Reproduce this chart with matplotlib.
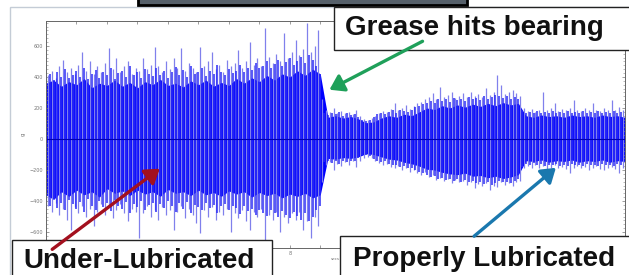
import numpy as np
import matplotlib
matplotlib.use("Agg")
import matplotlib.pyplot as plt
from matplotlib.patches import Rectangle, FancyArrowPatch

# vibration trace (x in s, y in g-ish units)
core_t = np.arange(0, 19.01, 0.25)
core_hi = [360, 380, 340, 370, 350, 390, 330, 360, 345, 380, 340, 365, 330, 370, 350, 385,
           345, 360, 335, 375, 350, 380, 340, 365, 345, 390, 360, 395, 370, 410, 380, 420,
           400, 440, 410, 450, 420,
           140, 150, 135, 145, 130, 105, 110, 135, 150, 140, 160, 150, 175, 200, 190, 215,
           200, 220, 205, 225, 210, 230, 215, 235, 220, 230,
           150, 140, 155, 145, 150, 140, 155, 145, 150, 140, 155, 145, 150, 140]
core_lo = [-360, -390, -340, -370, -330, -360, -340, -375, -320, -350, -335, -365, -330, -355,
           -340, -370, -325, -350, -340, -365, -330, -360, -345, -370, -335, -355, -340, -375,
           -345, -365, -350, -380, -355, -370, -350, -380, -360,
           -125, -130, -120, -125, -115, -95, -100, -115, -130, -135, -150, -160, -175, -195,
           -200, -215, -225, -230, -220, -240, -235, -250, -240, -255, -245, -230,
           -140, -145, -135, -150, -140, -145, -135, -150, -140, -145, -135, -150, -140, -145]

# mid-height hairs
mid_t = np.arange(0, 19.0, 0.125)
mid_hi = [390, 420, 380, 430, 400, 450, 395, 410, 440, 400, 460, 385, 420, 445, 395, 430,
          410, 455, 390, 425, 440, 400, 470, 410, 430, 395, 450, 420, 405, 460, 415, 440,
          395, 430, 465, 410, 445, 400, 470, 420, 435, 455, 405, 440, 420, 475, 430, 415,
          450, 425, 440, 480, 430, 460, 445, 490, 455, 470, 500, 460, 485, 510, 470, 495,
          520, 480, 505, 530, 490, 540, 510, 470,
          420, 165, 155, 170, 160, 175, 150, 165, 155, 160, 140, 120, 115, 125, 145, 160,
          165, 160, 175, 185, 170, 190, 180, 175, 190, 205, 215, 225, 235, 245, 230, 260,
          245, 255, 240, 265, 250, 260, 245, 270, 255, 265, 250, 275, 260, 270, 285, 275,
          265, 275, 260, 270, 255, 190, 170, 175, 165, 180, 170, 175, 165, 180, 170, 175,
          165, 180, 170, 175, 165, 180, 170, 175, 165, 180, 170, 175, 165, 180, 170, 175]
mid_lo = [-400, -430, -385, -445, -410, -460, -395, -420, -450, -405, -470, -390, -430, -455,
          -400, -440, -415, -465, -395, -430, -450, -405, -475, -420, -440, -400, -455, -425,
          -410, -470, -420, -445, -400, -435, -470, -415, -450, -405, -475, -425, -440, -460,
          -410, -445, -425, -480, -435, -420, -455, -430, -445, -485, -435, -465, -450, -490,
          -460, -475, -495, -460, -480, -500, -465, -490, -510, -470, -495, -520, -480, -530,
          -500, -460,
          -430, -150, -140, -155, -145, -160, -140, -150, -140, -145, -125, -105, -100, -110,
          -130, -145, -150, -145, -160, -170, -165, -180, -175, -185, -190, -200, -210, -220,
          -230, -245, -240, -255, -250, -265, -255, -270, -260, -275, -265, -280, -270, -285,
          -275, -290, -280, -295, -285, -270, -280, -275, -285, -270, -260, -180, -160, -170,
          -155, -170, -160, -175, -165, -170, -160, -175, -165, -175, -160, -170, -165, -175,
          -160, -170, -165, -175, -160, -170, -165, -175, -160, -170]

# tallest hairs
peak_t = np.arange(0.0625, 19.0, 0.125)
peak_hi = [410, 440, 395, 470, 510, 430, 455, 420, 480, 560, 440, 500, 420, 470, 430, 490,
           587, 450, 520, 430, 470, 500, 420, 460, 440, 520, 450, 480, 595, 470, 430, 500,
           450, 520, 460, 585, 440, 490, 460, 430, 593, 470, 500, 563, 450, 480, 430, 510,
           470, 490, 574, 460, 500, 626, 480, 520, 470, 716, 530, 490, 550, 500, 684, 520,
           560, 639, 540, 580, 746, 560, 600, 703,
           260, 185, 175, 198, 170, 180, 165, 175, 160, 187, 150, 130, 125, 135, 150, 170,
           180, 175, 195, 230, 185, 200, 219, 195, 210, 230, 240, 255, 270, 295, 260, 338,
           270, 285, 305, 265, 280, 295, 270, 305, 280, 290, 270, 326, 285, 300, 413, 348,
           290, 300, 316, 295, 280, 200, 180, 195, 175, 190, 305, 185, 200, 230, 180, 195,
           185, 200, 252, 190, 180, 200, 185, 230, 190, 180, 200, 190, 252, 185, 209, 190]
peak_lo = [-430, -470, -410, -490, -450, -520, -587, -440, -480, -430, -500, -450, -561, -470,
           -420, -490, -440, -510, -460, -420, -480, -530, -450, -470, -640, -480, -430, -500,
           -460, -520, -440, -490, -460, -587, -470, -430, -510, -450, -490, -540, -609, -460,
           -500, -440, -520, -470, -490, -450, -598, -480, -510, -460, -530, -585, -470, -500,
           -450, -651, -490, -520, -470, -598, -500, -540, -480, -520, -470, -587, -530, -640,
           -500, -560,
           -280, -165, -150, -200, -160, -175, -150, -165, -145, -178, -140, -120, -115, -125,
           -140, -155, -170, -160, -180, -190, -175, -200, -190, -210, -200, -221, -230, -215,
           -245, -230, -264, -250, -270, -255, -286, -265, -280, -270, -295, -280, -318, -290,
           -300, -285, -329, -300, -310, -275, -295, -285, -300, -280, -270, -190, -175, -190,
           -170, -185, -175, -200, -185, -170, -190, -180, -195, -221, -185, -175, -190, -180,
           -200, -185, -175, -195, -200, -185, -180, -195, -221, -190]

x_ticks = list(range(0, 20))
x_labels = [str(i) if i % 2 == 0 else "" for i in x_ticks]
y_ticks = [-600, -400, -200, 0, 200, 400, 600]

W, H = 629, 275


def fx(x):
    return x / W


def fy(y):
    return 1 - y / H


fig = plt.figure(figsize=(W / 100, H / 100), dpi=100)
fig.patch.set_facecolor("white")

# screenshot window frame + cropped black box at the top
fig.add_artist(Rectangle((fx(10), fy(290)), 1, fy(7) - fy(290), transform=fig.transFigure,
                         fill=False, edgecolor="#c4ccd6", lw=1))
fig.add_artist(Rectangle((fx(138), fy(5)), fx(329), 0.1, transform=fig.transFigure,
                         facecolor="#56606a", edgecolor="black", lw=2))

ax = fig.add_axes([fx(46), fy(248), fx(625 - 46), fy(21) - fy(248)])
ax.vlines(peak_t, 0, peak_hi, color="#8080ec", lw=0.9)
ax.vlines(peak_t, 0, peak_lo, color="#8080ec", lw=0.9)
ax.vlines(mid_t, 0, mid_hi, color="#2c2cf6", lw=1.1)
ax.vlines(mid_t, 0, mid_lo, color="#2c2cf6", lw=1.1)
ax.fill_between(core_t, core_lo, core_hi, color="#0000ff", lw=0)
ax.plot([0, 19], [0, 0], color="#0000b0", lw=0.8)

ax.set_xlim(0, 19)
ax.set_ylim(-703, 761)
ax.set_xticks(x_ticks)
ax.set_xticklabels(x_labels)
ax.set_yticks(y_ticks)
ax.set_yticks(np.arange(-700, 761, 25), minor=True)
ax.tick_params(direction="in", top=True, right=True, length=2.5, width=0.5,
               colors="#777777", labelsize=3.5, pad=2)
ax.tick_params(which="minor", direction="in", right=True, length=1.2, width=0.4, colors="#888888")
ax.set_ylabel("g", fontsize=4, color="#777777", labelpad=3)
ax.set_xlabel("secs", fontsize=3, color="#777777", labelpad=1)
for s in ax.spines.values():
    s.set_color("#666666")
    s.set_linewidth(0.7)

# callout boxes (they sit on top of the bottom tick labels, as in the screenshot)
boxes = [(334, 7, 320, 43), (12, 240, 260, 50), (340, 236, 300, 50)]
for x0, y0, w, h in boxes:
    fig.add_artist(Rectangle((fx(x0), fy(y0 + h)), fx(w), fy(y0) - fy(y0 + h),
                             transform=fig.transFigure, facecolor="white",
                             edgecolor="#222222", lw=1, zorder=5))

txt = dict(family="Liberation Sans", weight="bold", fontsize=20, color="#111111",
           ha="left", va="baseline", zorder=6)
fig.text(fx(345), fy(35), "Grease hits bearing", **txt)
fig.text(fx(23), fy(268), "Under-Lubricated", **txt)
fig.text(fx(353), fy(266), "Properly Lubricated", **txt)

arrows = [((425, 40), (327, 91), "#1fa05a"),
          ((50, 251), (162, 167), "#a3101e"),
          ((472, 238), (558, 166), "#1a78ae")]
for (x1, y1), (x2, y2), c in arrows:
    fig.add_artist(FancyArrowPatch((fx(x1), fy(y1)), (fx(x2), fy(y2)), transform=fig.transFigure,
                                   arrowstyle="-|>,head_length=0.6,head_width=0.4",
                                   mutation_scale=14, lw=2.4, color=c, zorder=7))

fig.savefig("out.png", dpi=100)
